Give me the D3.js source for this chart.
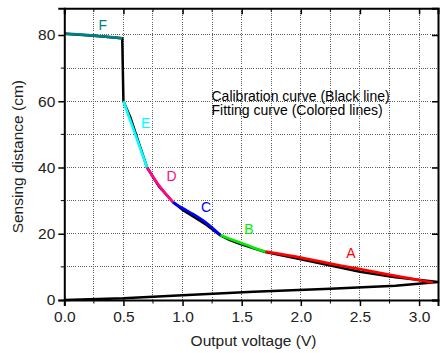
<!DOCTYPE html>
<html>
<head>
<meta charset="utf-8">
<script src="https://cdn.jsdelivr.net/npm/d3@7"></script>
<style>
  html, body { margin: 0; padding: 0; background: #fff; }
  svg { display: block; font-family: "Liberation Sans", Arial, sans-serif; }
</style>
</head>
<body>
<svg id="chart" width="440" height="353"></svg>
<script>
// Calibration curve (output voltage V, sensing distance cm), in measurement order
const calibV = [0, 0.5, 1.0, 1.6, 2.25, 2.8, 3.16, 2.8, 2.5, 2.25, 2.0, 1.7, 1.49, 1.4, 1.32, 1.2, 1.1, 1.0, 0.92, 0.8, 0.7, 0.62, 0.56, 0.5, 0.49, 0.25, 0];
const calibD = [0, 0.5, 1.4, 2.5, 3.4, 4.3, 5.4, 6.9, 8.5, 10.4, 12.3, 14.5, 16.9, 18.1, 19.5, 22.7, 25.0, 27.2, 29.5, 34.3, 40.0, 48.5, 55.0, 60.0, 79.0, 79.8, 80.4];

// Fitted segments A..F
const fitNames = ["A", "B", "C", "D", "E", "F"];
const fitColors = ["#ff0000", "#00ee00", "#0000ff", "#ff0a84", "#00ffff", "#008080"];
const fitV = [
  [1.70, 2.0, 2.25, 2.5, 2.8, 3.12],
  [1.32, 1.4, 1.49, 1.6, 1.70],
  [0.92, 1.0, 1.09, 1.2, 1.32],
  [0.70, 0.8, 0.92],
  [0.50, 0.6, 0.70],
  [0.0, 0.25, 0.49]
];
const fitD = [
  [14.6, 12.8, 11.0, 9.3, 7.3, 5.2],
  [19.6, 18.4, 17.3, 15.8, 14.6],
  [29.5, 27.7, 25.9, 23.3, 19.6],
  [40.0, 34.6, 29.5],
  [60.0, 50.0, 40.0],
  [80.4, 79.8, 79.0]
];
// Segment letter anchors (V, cm)
const labelV = [2.423, 1.561, 1.198, 0.906, 0.688, 0.325];
const labelD = [14.3, 21.3, 28.2, 37.4, 53.4, 83.0];

// Axis ticks
const xMajor = [0, 0.5, 1.0, 1.5, 2.0, 2.5, 3.0];
const xMinor = [0.25, 0.75, 1.25, 1.75, 2.25, 2.75];
const yMajor = [0, 20, 40, 60, 80];
const yMinor = [10, 30, 50, 70];

const legendLines = ["Calibration curve (Black line)", "Fitting curve (Colored lines)"];

const svg = d3.select("#chart");
const L = 64.3, R = 438, T = 8.3, B = 300;

const x = d3.scaleLinear().domain([0, 3.16]).range([L, R]);
const y = d3.scaleLinear().domain([0, 88.06]).range([B, T]);

// dotted grid
const grid = svg.append("g").attr("stroke", "#5e5e5e").attr("stroke-width", 1)
  .attr("stroke-dasharray", "1,1.2").attr("shape-rendering", "crispEdges");
xMajor.concat(xMinor).filter(v => v > 0).forEach(v => {
  grid.append("line").attr("x1", x(v)).attr("x2", x(v)).attr("y1", T).attr("y2", B);
});
yMajor.concat(yMinor).filter(v => v > 0).forEach(v => {
  grid.append("line").attr("x1", L).attr("x2", R).attr("y1", y(v)).attr("y2", y(v));
});

// curves
const line = d3.line().x(d => x(d[0])).y(d => y(d[1]));
const smooth = d3.line().x(d => x(d[0])).y(d => y(d[1])).curve(d3.curveCatmullRom.alpha(0.5));

svg.append("path")
  .datum(calibV.map((v, i) => [v, calibD[i]]))
  .attr("d", line)
  .attr("fill", "none").attr("stroke", "#000").attr("stroke-width", 2.5)
  .attr("stroke-linejoin", "round");

fitV.forEach((vs, k) => {
  svg.append("path")
    .datum(vs.map((v, i) => [v, fitD[k][i]]))
    .attr("d", smooth)
    .attr("fill", "none").attr("stroke", fitColors[k]).attr("stroke-width", 2.7)
    .attr("stroke-linecap", "butt");
});

fitNames.forEach((n, k) => {
  svg.append("text")
    .attr("x", x(labelV[k])).attr("y", y(labelD[k]))
    .attr("text-anchor", "middle").attr("dominant-baseline", "central")
    .attr("font-size", 14).attr("fill", fitColors[k])
    .text(n);
});

// legend text
legendLines.forEach((t, i) => {
  svg.append("text").attr("x", 211.5).attr("y", 100.7 + i * 14.5)
    .attr("font-size", 14).attr("fill", "#000").text(t);
});

// axes: bottom/left outward, top/right inward
const xAxis = d3.axisBottom(x).tickValues(xMajor).tickFormat(d3.format(".1f")).tickSizeOuter(0).tickSize(6).tickPadding(5);
const gx = svg.append("g").attr("transform", `translate(0,${B})`).call(xAxis);
gx.selectAll("text").attr("font-size", 15.5).attr("fill", "#222");
gx.append("g").call(g => xMinor.forEach(v => g.append("line").attr("x1", x(v)).attr("x2", x(v)).attr("y1", 0).attr("y2", 3.5).attr("stroke", "#000")));

const yAxis = d3.axisLeft(y).tickValues(yMajor).tickFormat(d3.format("d")).tickSizeOuter(0).tickSize(6).tickPadding(3);
const gy = svg.append("g").attr("transform", `translate(${L},0)`).call(yAxis);
gy.selectAll("text").attr("font-size", 15.5).attr("fill", "#222");
gy.append("g").call(g => yMinor.forEach(v => g.append("line").attr("x1", 0).attr("x2", -3.5).attr("y1", y(v)).attr("y2", y(v)).attr("stroke", "#000")));

const gt = svg.append("g").attr("transform", `translate(0,${T})`)
  .call(d3.axisTop(x).tickValues(xMajor).tickFormat("").tickSizeOuter(0).tickSize(-6));
gt.append("g").call(g => xMinor.forEach(v => g.append("line").attr("x1", x(v)).attr("x2", x(v)).attr("y1", 0).attr("y2", 3.5).attr("stroke", "#000")));

const gr = svg.append("g").attr("transform", `translate(${R},0)`)
  .call(d3.axisRight(y).tickValues(yMajor).tickFormat("").tickSizeOuter(0).tickSize(-6));

[gx, gy, gt, gr].forEach(g => {
  g.select(".domain").attr("stroke", "#000").attr("stroke-width", 2);
  g.selectAll(".tick line").attr("stroke", "#000").attr("stroke-width", 1.5);
});

// axis titles
svg.append("text").attr("x", (190 + 317) / 2).attr("y", 346)
  .attr("text-anchor", "middle").attr("font-size", 15.5).attr("fill", "#222")
  .text("Output voltage (V)");
svg.append("text").attr("transform", "translate(23,156.7) rotate(-90)")
  .attr("text-anchor", "middle").attr("font-size", 15.5).attr("fill", "#222")
  .text("Sensing distance (cm)");
</script>
</body>
</html>
